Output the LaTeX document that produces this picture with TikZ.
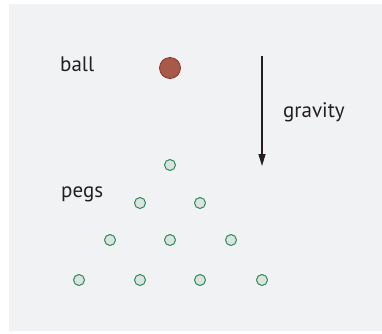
\documentclass[tikz,border=0pt]{standalone}
\usepackage{fontspec}
\setmainfont{PT Sans}
\usetikzlibrary{arrows.meta}
\definecolor{panel}{HTML}{F1F2F4}
\definecolor{ballfill}{HTML}{A85A4A}
\definecolor{balldraw}{HTML}{8A3328}
\definecolor{pegfill}{HTML}{DAE3DE}
\definecolor{pegdraw}{HTML}{2A8A5C}
\definecolor{ink}{HTML}{231F20}
\tikzset{
  peg/.style={circle, draw=pegdraw, fill=pegfill, line width=1pt, minimum size=11pt, inner sep=0pt},
  ballstyle/.style={circle, draw=balldraw, fill=ballfill, line width=0.8pt, minimum size=21pt, inner sep=0pt},
  lbl/.style={anchor=base west, inner sep=0pt, font=\fontsize{21}{24}\selectfont, text=ink},
  gravarrow/.style={draw=ink, line width=1.3pt, -{Triangle[length=12pt,width=7pt]}}
}
\begin{document}
\begin{tikzpicture}[x=1pt,y=-1pt]
\useasboundingbox (0,0) rectangle (382,333);
\fill[panel] (9,4) rectangle (382,331);
\node[ballstyle] (ball) at (170,68) {};
\node[lbl] (balllabel) at (60,71) {ball};
\node[lbl] (pegslabel) at (61,197) {pegs};
\node[lbl] (gravlabel) at (283,117) {gravity};
\coordinate (gtop) at (262,56);
\coordinate (gbot) at (262,166);
\draw[gravarrow] (gtop) -- (gbot);
\node[peg] (p11) at (170,165) {};
\node[peg] (p21) at (140,203) {};
\node[peg] (p22) at (200,203) {};
\node[peg] (p31) at (110,240) {};
\node[peg] (p32) at (170,240) {};
\node[peg] (p33) at (231,240) {};
\node[peg] (p41) at (79,280) {};
\node[peg] (p42) at (140,280) {};
\node[peg] (p43) at (200,280) {};
\node[peg] (p44) at (262,280) {};
\end{tikzpicture}
\end{document}
